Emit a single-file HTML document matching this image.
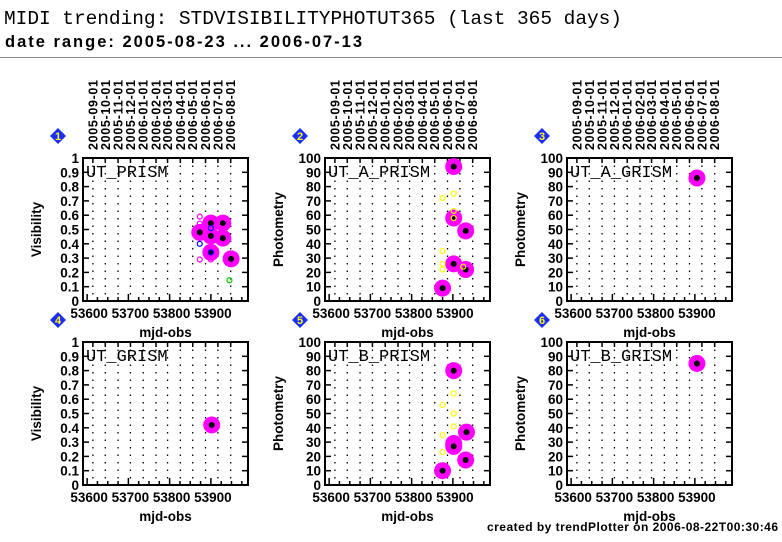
<!DOCTYPE html>
<html><head><meta charset="utf-8">
<style>
html,body{margin:0;padding:0;background:#fff;}
svg{display:block;}
text{font-family:"Liberation Sans",sans-serif;}
</style></head>
<body>
<svg id="chart" width="782" height="542" xmlns="http://www.w3.org/2000/svg">
<text x="4" y="24" font-size="19.5" textLength="618" fill="#000" style="font-family:'Liberation Mono',monospace">MIDI trending: STDVISIBILITYPHOTUT365 (last 365 days)</text>
<text x="5" y="47" font-size="16.5" textLength="357" fill="#000" style="font-weight:600">date range: 2005-08-23 ... 2006-07-13</text>
<line x1="0" y1="57.5" x2="782" y2="57.5" stroke="#888" stroke-width="1"/>
<text x="487" y="531" textLength="291" font-size="12" font-weight="bold" fill="#000">created by trendPlotter on 2006-08-22T00:30:46</text>
<g id="panels"></g>
</svg>
<script>
// x-axis data
const monthLabels = ["2005-09-01","2005-10-01","2005-11-01","2005-12-01","2006-01-01","2006-02-01","2006-03-01","2006-04-01","2006-05-01","2006-06-01","2006-07-01","2006-08-01"];
const monthMjd = [53614,53644,53675,53705,53736,53767,53795,53826,53856,53887,53917,53948];
const xTicks = [53600,53700,53800,53900];
const visTicks = ["0","0.1","0.2","0.3","0.4","0.5","0.6","0.7","0.8","0.9","1"];
const phoTicks = ["0","10","20","30","40","50","60","70","80","90","100"];

// panel 1 UT_PRISM
const p1BigX = [53873,53900,53929,53900,53929,53900,53949];
const p1BigY = [0.48,0.545,0.545,0.455,0.44,0.34,0.295];
const p1MagX = [53873,53873,53873,53900];
const p1MagY = [0.59,0.54,0.29,0.29];
const p1BlueX = [53873,53900,53900];
const p1BlueY = [0.40,0.51,0.34];
const p1GreenX = [53945];
const p1GreenY = [0.145];
// panel 2 UT_A_PRISM
const p2BigX = [53902,53902,53931,53902,53931,53875];
const p2BigY = [94,58,49,26,22,9];
const p2YelX = [53875,53902,53902,53902,53875,53875,53875,53925];
const p2YelY = [72,75,63,58,35,26,22,24];
// panel 3 UT_A_GRISM
const p3BigX = [53905];
const p3BigY = [86];
// panel 4 UT_GRISM
const p4BigX = [53902];
const p4BigY = [0.42];
// panel 5 UT_B_PRISM
const p5BigX = [53902,53902,53902,53933,53931,53875];
const p5BigY = [80,29,27,37,17.5,10];
const p5YelX = [53902,53875,53902,53902,53875,53875];
const p5YelY = [64,56,50,41,35,23];
// panel 6 UT_B_GRISM
const p6BigX = [53905];
const p6BigY = [85];

const NS="http://www.w3.org/2000/svg";
const root=document.getElementById('panels');
const XMIN=53590, XMAX=53990;
function mk(tag,attrs,parent){const e=document.createElementNS(NS,tag);for(const k in attrs)e.setAttribute(k,attrs[k]);(parent||root).appendChild(e);return e;}

function panel(num,L,T,label,ytitle,ymax,yTickLabels,series,showDates){
  const W=165,H=143,R=L+W,B=T+H;
  const g=mk('g',{});
  
  
  const sx=v=>L+(v-XMIN)/(XMAX-XMIN)*W;
  const sy=v=>B-v/ymax*H;
  monthMjd.forEach((m,i)=>{
    const l=mk('line',{x1:sx(m),x2:sx(m),y1:T,y2:B,stroke:'#000','stroke-width':1.3,'stroke-dasharray':'1.5,6'},g);
    
    
    if(showDates){
      const t=mk('text',{x:0,y:0,transform:`translate(${sx(m)+4.5},${T-8}) rotate(-90)`,'font-size':12.5,'font-weight':'bold',textLength:70,fill:'#000'},g);
      t.textContent=monthLabels[i];
      
      
    }
  });
  const fr=mk('rect',{x:L,y:T,width:W,height:H,fill:'none',stroke:'#000','stroke-width':2},g);
  
  
  yTickLabels.forEach((s,i)=>{
    const y=sy(i*ymax/10);
    mk('line',{x1:L,x2:L+6,y1:y,y2:y,stroke:'#000','stroke-width':1.5},g);
    mk('line',{x1:R,x2:R-6,y1:y,y2:y,stroke:'#000','stroke-width':1.5},g);
    const t=mk('text',{x:L-4,y:y+5,'text-anchor':'end','font-size':13.5,'font-weight':'bold',fill:'#000'},g);
    t.textContent=s;
    
    
  });
  for(let v=53600;v<=XMAX;v+=25){
    const big=v%100===0;
    mk('line',{x1:sx(v),x2:sx(v),y1:B,y2:B-(big?7:4),stroke:'#000','stroke-width':1.5},g);
  }
  monthMjd.forEach(m=>mk('line',{x1:sx(m),x2:sx(m),y1:T,y2:T+5,stroke:'#000','stroke-width':1.5},g));
  xTicks.forEach(v=>{
    const t=mk('text',{x:sx(v)+2,y:B+17,'text-anchor':'middle','font-size':13.5,'font-weight':'bold',fill:'#000'},g);
    t.textContent=String(v);
    
    
  });
  const xt=mk('text',{x:L+W/2,y:B+36,'text-anchor':'middle','font-size':13.5,'font-weight':'bold',fill:'#000'},g);
  xt.textContent='mjd-obs';
  
  
  const yt=mk('text',{x:0,y:0,transform:`translate(${L-42},${T+H/2}) rotate(-90)`,'text-anchor':'middle','font-size':13.5,'font-weight':'bold',fill:'#000'},g);
  yt.textContent=ytitle;
  
  
  const lb=mk('text',{x:L+3,y:T+19,'font-size':17,fill:'#000',style:"font-family:'Liberation Mono',monospace"},g);
  lb.textContent=label;
  
  
  const dx=L-25,dy=T-22;
  const d=mk('polygon',{points:`${dx},${dy-8} ${dx+8},${dy} ${dx},${dy+8} ${dx-8},${dy}`,fill:'#1a2cff'},g);
  
  
  const dn=mk('text',{x:dx,y:dy+4,'text-anchor':'middle','font-size':11,'font-weight':'bold',fill:'#ffff00'},g);
  dn.textContent=String(num);
  series.forEach(s=>{
    s.xs.forEach((xv,i)=>{
      const cx=sx(xv),cy=sy(s.ys[i]);
      if(s.big){
        const c=mk('circle',{cx:cx,cy:cy,r:8.5,fill:'#ff00ff'},g);
        
        
        mk('circle',{cx:cx,cy:cy,r:3,fill:'#000'},g);
      }else{
        const c=mk('circle',{cx:cx,cy:cy,r:2.5,fill:'none',stroke:s.color,'stroke-width':1.2},g);
        
        
      }
    });
  });
}
panel(1,83,158,'UT_PRISM','Visibility',1,visTicks,[
  {xs:p1MagX,ys:p1MagY,color:'#ff00ff'},{xs:p1BigX,ys:p1BigY,big:true},
  {xs:p1BlueX,ys:p1BlueY,color:'#0000ff'},{xs:p1GreenX,ys:p1GreenY,color:'#00cc00'}],true);
panel(2,325,158,'UT_A_PRISM','Photometry',100,phoTicks,[
  {xs:p2BigX,ys:p2BigY,big:true},{xs:p2YelX,ys:p2YelY,color:'#ffff00'}],true);
panel(3,567,158,'UT_A_GRISM','Photometry',100,phoTicks,[{xs:p3BigX,ys:p3BigY,big:true}],true);
panel(4,83,342,'UT_GRISM','Visibility',1,visTicks,[{xs:p4BigX,ys:p4BigY,big:true}],false);
panel(5,325,342,'UT_B_PRISM','Photometry',100,phoTicks,[
  {xs:p5BigX,ys:p5BigY,big:true},{xs:p5YelX,ys:p5YelY,color:'#ffff00'}],false);
panel(6,567,342,'UT_B_GRISM','Photometry',100,phoTicks,[{xs:p6BigX,ys:p6BigY,big:true}],false);
</script>
</body></html>
